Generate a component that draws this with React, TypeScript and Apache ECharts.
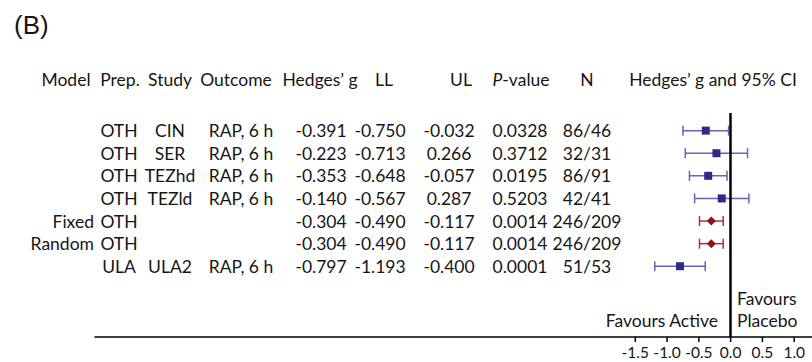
import React, { useEffect, useRef } from "react";
import * as echarts from "echarts";

// Table columns, one entry per row (top to bottom)
const models = ["", "", "", "", "Fixed", "Random", ""];
const preps = ["OTH", "OTH", "OTH", "OTH", "OTH", "OTH", "ULA"];
const studies = ["CIN", "SER", "TEZhd", "TEZld", "", "", "ULA2"];
const outcomes = ["RAP, 6 h", "RAP, 6 h", "RAP, 6 h", "RAP, 6 h", "", "", "RAP, 6 h"];
const hedgesG = [-0.391, -0.223, -0.353, -0.14, -0.304, -0.304, -0.797];
const lowerLimits = [-0.75, -0.713, -0.648, -0.567, -0.49, -0.49, -1.193];
const upperLimits = [-0.032, 0.266, -0.057, 0.287, -0.117, -0.117, -0.4];
const pValues = ["0.0328", "0.3712", "0.0195", "0.5203", "0.0014", "0.0014", "0.0001"];
const sampleSizes = ["86/46", "32/31", "86/91", "42/41", "246/209", "246/209", "51/53"];
const pooled = [false, false, false, false, true, true, false];

const tickValues = [-1.5, -1.0, -0.5, 0.0, 0.5, 1.0];

const FONT = "Lato, 'Open Sans', sans-serif";
const FS = 17.5;
const INK = "#161616";
const BLUE_LINE = "#6464b8";
const BLUE_MARK = "#2c2c86";
const RED_LINE = "#a83232";
const RED_MARK = "#8a1414";

export default function App() {
  const ref = useRef<HTMLDivElement>(null);

  useEffect(() => {
    document.body.style.margin = "0";
    if (!ref.current) return;
    const chart = echarts.init(ref.current, null, { renderer: "svg" });

    const txt = (x: number, y: number, text: string, align: string = "center", extra: any = {}) => ({
      type: "text",
      x,
      y,
      style: {
        text,
        fill: INK,
        font: `${FS}px ${FONT}`,
        align,
        verticalAlign: "middle",
        ...extra,
      },
    });

    const fmt3 = (v: number) => v.toFixed(3);

    const tableRender = (params: any, api: any) => {
      const i = params.dataIndex;
      const y = api.coord([0, api.value(0)])[1];
      return {
        type: "group",
        children: [
          txt(94, y, models[i], "right"),
          txt(119, y, preps[i]),
          txt(170, y, studies[i]),
          txt(241, y, outcomes[i]),
          txt(321, y, fmt3(hedgesG[i])),
          txt(380, y, fmt3(lowerLimits[i])),
          txt(449, y, fmt3(upperLimits[i])),
          txt(520, y, pValues[i]),
          txt(587, y, sampleSizes[i]),
        ],
      };
    };

    const forestRender = (params: any, api: any) => {
      const i = params.dataIndex;
      const row = api.value(3);
      const pLo = api.coord([api.value(1), row]);
      const pHi = api.coord([api.value(2), row]);
      const pMid = api.coord([api.value(0), row]);
      const isPooled = pooled[i];
      const lineColor = isPooled ? RED_LINE : BLUE_LINE;
      const markColor = isPooled ? RED_MARK : BLUE_MARK;
      const cap = 5;
      const lineStyle = { stroke: lineColor, lineWidth: 1.5 };
      const marker = isPooled
        ? {
            type: "polygon",
            shape: {
              points: [
                [pMid[0], pMid[1] - 4.5],
                [pMid[0] + 4.5, pMid[1]],
                [pMid[0], pMid[1] + 4.5],
                [pMid[0] - 4.5, pMid[1]],
              ],
            },
            style: { fill: markColor },
          }
        : {
            type: "rect",
            shape: { x: pMid[0] - 4, y: pMid[1] - 4, width: 8, height: 8 },
            style: { fill: markColor },
          };
      return {
        type: "group",
        children: [
          { type: "line", shape: { x1: pLo[0], y1: pLo[1], x2: pHi[0], y2: pHi[1] }, style: lineStyle },
          { type: "line", shape: { x1: pLo[0], y1: pLo[1] - cap, x2: pLo[0], y2: pLo[1] + cap }, style: lineStyle },
          { type: "line", shape: { x1: pHi[0], y1: pHi[1] - cap, x2: pHi[0], y2: pHi[1] + cap }, style: lineStyle },
          marker,
        ],
      };
    };

    const tickRender = (params: any, api: any) => {
      const cs = params.coordSys;
      const x = api.coord([api.value(0), 0])[0];
      const yb = cs.y + cs.height;
      return {
        type: "group",
        children: [
          { type: "line", shape: { x1: x, y1: yb, x2: x, y2: yb + 5 }, style: { stroke: "#000", lineWidth: 1.5 } },
          {
            type: "text",
            x,
            y: yb + 15,
            style: {
              text: api.value(0).toFixed(1),
              fill: INK,
              font: `15.5px ${FONT}`,
              align: "center",
              verticalAlign: "middle",
            },
          },
        ],
      };
    };

    chart.setOption({
      animation: false,
      backgroundColor: "#fff",
      grid: { left: 95, right: 0, top: 113, bottom: 25, containLabel: false },
      xAxis: {
        type: "value",
        min: -10,
        max: 1.28,
        axisLine: { show: true, onZero: false, lineStyle: { color: "#000", width: 1.5 } },
        axisTick: { show: false },
        axisLabel: { show: false },
        splitLine: { show: false },
      },
      yAxis: {
        type: "value",
        min: -0.78,
        max: 9.13,
        inverse: true,
        show: false,
        splitLine: { show: false },
      },
      graphic: [
        { type: "text", left: 14, top: 12, style: { text: "(B)", fill: INK, font: "26px 'Liberation Sans', Arial, sans-serif" } },
        txt(66, 79, "Model"),
        txt(120, 79, "Prep."),
        txt(170, 79, "Study"),
        txt(236, 79, "Outcome"),
        txt(320, 79, "Hedges\u2019 g"),
        txt(384, 79, "LL"),
        txt(461, 79, "UL"),
        {
          type: "text",
          x: 521,
          y: 79,
          style: {
            text: "{i|P}-value",
            fill: INK,
            font: `${FS}px ${FONT}`,
            align: "center",
            verticalAlign: "middle",
            rich: { i: { fontStyle: "italic", fontSize: FS, fontFamily: FONT, fill: INK } },
          },
        },
        txt(587, 79, "N"),
        txt(713, 79, "Hedges\u2019 g and 95% CI"),
        txt(718, 320, "Favours Active", "right"),
        txt(737, 298, "Favours", "left"),
        txt(737, 320, "Placebo", "left"),
      ],
      series: [
        {
          type: "custom",
          name: "table",
          renderItem: tableRender,
          data: hedgesG.map((_, i) => [i]),
          encode: { y: 0 },
          silent: true,
        },
        {
          type: "custom",
          name: "Hedges' g",
          renderItem: forestRender,
          data: hedgesG.map((g, i) => [g, lowerLimits[i], upperLimits[i], i]),
          encode: { x: [0, 1, 2], y: 3 },
          silent: true,
          markLine: {
            silent: true,
            symbol: "none",
            label: { show: false },
            lineStyle: { color: "#000", width: 2.5, type: "solid" },
            data: [{ xAxis: 0 }],
          },
        },
        {
          type: "custom",
          name: "ticks",
          renderItem: tickRender,
          data: tickValues.map((v) => [v]),
          encode: { x: 0 },
          silent: true,
        },
      ],
    });

    return () => chart.dispose();
  }, []);

  return <div ref={ref} style={{ width: 812, height: 362 }} />;
}
